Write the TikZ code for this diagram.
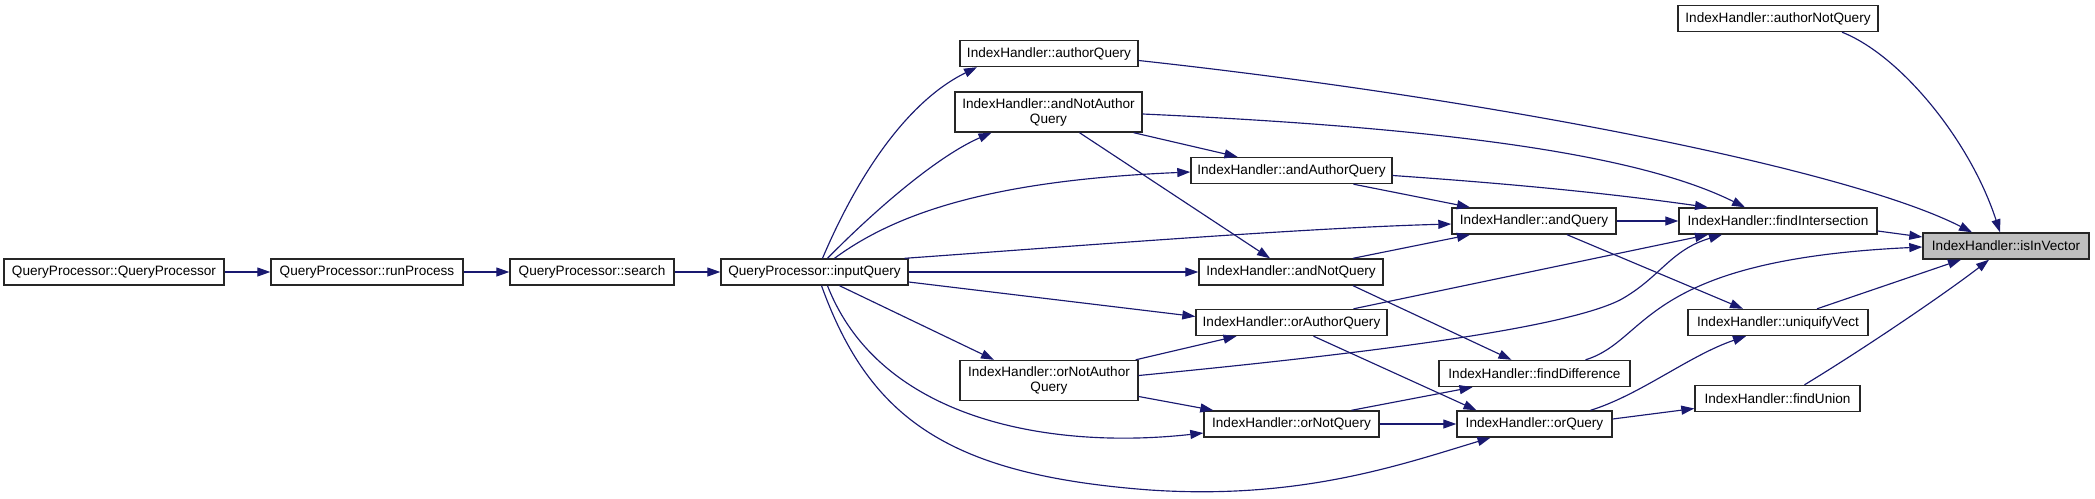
\documentclass[tikz,border=0pt]{standalone}
\usepackage{fontspec}
\setmainfont{Liberation Sans}
\usetikzlibrary{arrows.meta,calc}
\definecolor{edgeblue}{HTML}{191970}
\definecolor{rootgray}{HTML}{BFBFBF}
\begin{document}
\begin{tikzpicture}[x=1pt,y=-1pt,
  fn/.style={draw=black!85, line width=1.4pt, fill=white, minimum height=26pt,
    inner sep=0pt, font=\fontsize{13.6}{15}\selectfont, align=center},
  fntwo/.style={fn, minimum height=40pt},
  root/.style={fn, fill=rootgray},
  call/.style={draw=edgeblue, line width=1.15pt, -{Triangle[length=13pt,width=9pt]}}]
\useasboundingbox (0,0) rectangle (2095,498);

% nodes
\node[fn, minimum width=220pt] (qp) at (114,272) {QueryProcessor::QueryProcessor};
\node[fn, minimum width=192pt] (run) at (367,272) {QueryProcessor::runProcess};
\node[fn, minimum width=164pt] (search) at (592,272) {QueryProcessor::search};
\node[fn, minimum width=187pt] (input) at (814.5,272) {QueryProcessor::inputQuery};
\node[fn, minimum width=178pt] (authorQ) at (1049,53.5) {IndexHandler::authorQuery};
\node[fntwo, minimum width=187pt] (andNotAuthor) at (1048.5,112) {IndexHandler::andNotAuthor\\Query};
\node[fntwo, minimum width=178pt] (orNotAuthor) at (1049,380.5) {IndexHandler::orNotAuthor\\Query};
\node[fn, minimum width=201pt] (andAuthor) at (1291.5,170.5) {IndexHandler::andAuthorQuery};
\node[fn, minimum width=184pt] (andNot) at (1291,272) {IndexHandler::andNotQuery};
\node[fn, minimum width=191pt] (orAuthor) at (1291.5,322.5) {IndexHandler::orAuthorQuery};
\node[fn, minimum width=175pt] (orNot) at (1291.5,424) {IndexHandler::orNotQuery};
\node[fn, minimum width=164pt] (andQ) at (1534,221) {IndexHandler::andQuery};
\node[fn, minimum width=191pt] (findDiff) at (1534.5,373.5) {IndexHandler::findDifference};
\node[fn, minimum width=155pt] (orQ) at (1534.5,424) {IndexHandler::orQuery};
\node[fn, minimum width=200pt] (authorNot) at (1778,18.5) {IndexHandler::authorNotQuery};
\node[fn, minimum width=198pt] (findInter) at (1778,221) {IndexHandler::findIntersection};
\node[fn, minimum width=180pt] (uniq) at (1778,322.5) {IndexHandler::uniquifyVect};
\node[fn, minimum width=165pt] (findUnion) at (1777.5,398.5) {IndexHandler::findUnion};
\node[root, minimum width=166pt] (isIn) at (2006,246) {IndexHandler::isInVector};

% edges
\draw[call] (qp.east) -- (run.west);
\draw[call] (run.east) -- (search.west);
\draw[call] (search.east) -- (input.west);
\draw[call] ($(input.north)+(8,0)$) .. controls (860,170) and (910,100) .. ($(authorQ.south)+(-72,0)$);
\draw[call] ($(input.north)+(13,0)$) .. controls (880,205) and (940,155) .. ($(andNotAuthor.south)+(-57,0)$);
\draw[call] ($(input.north)+(20,0)$) .. controls (900,210) and (1000,180) .. ($(andAuthor.west)+(0,1.5)$);
\draw[call] ($(input.north east)+(-4,0)$) .. controls (1050,248) and (1300,228) .. ($(andQ.west)+(0,3)$);
\draw[call] (input.east) -- (andNot.west);
\draw[call] ($(input.east)+(0,10)$) -- ($(orAuthor.west)+(0,-6)$);
\draw[call] ($(input.south)+(25,0)$) -- ($(orNotAuthor.north)+(-55,0)$);
\draw[call] ($(input.south)+(13,0)$) .. controls (880,420) and (1050,450) .. ($(orNot.west)+(0,9)$);
\draw[call] ($(input.south)+(7,0)$) .. controls (870,420) and (950,475) .. (1150,490)
   .. controls (1300,500) and (1400,465) .. ($(orQ.south)+(-44,0)$);
\draw[call] ($(authorQ.east)+(0,7)$) .. controls (1500,100) and (1850,170) .. ($(isIn.north)+(-34,0)$);
\draw[call] ($(andNotAuthor.east)+(0,2)$) .. controls (1450,128) and (1640,155) .. ($(findInter.north)+(-33,0)$);
\draw[call] ($(andNotAuthor.south east)+(-9,0)$) -- ($(andAuthor.north)+(-54,0)$);
\draw[call] ($(andNotAuthor.south)+(31,0)$) -- ($(andNot.north)+(-21,0)$);
\draw[call] ($(andAuthor.east)+(0,5)$) .. controls (1500,183) and (1600,192) .. ($(findInter.north)+(-70,0)$);
\draw[call] ($(andAuthor.south)+(62,0)$) -- ($(andQ.north)+(-64,0)$);
\draw[call] (andQ.east) -- (findInter.west);
\draw[call] ($(andQ.south)+(33,0)$) -- ($(uniq.north)+(-35,0)$);
\draw[call] ($(andNot.north)+(62,0)$) -- ($(andQ.south)+(-64,0)$);
\draw[call] ($(andNot.south)+(62,0)$) -- ($(findDiff.north)+(-23,0)$);
\draw[call] ($(orAuthor.north)+(62,0)$) -- ($(findInter.south)+(-70,0)$);
\draw[call] ($(orAuthor.south)+(22,0)$) -- ($(orQ.north)+(-58,0)$);
\draw[call] ($(orNotAuthor.north east)+(-3,0)$) -- ($(orAuthor.south)+(-55,0)$);
\draw[call] ($(orNotAuthor.east)+(0,-5)$) .. controls (1350,355) and (1560,330) .. (1620,300)
   .. controls (1660,278) and (1670,250) .. ($(findInter.south)+(-56,0)$);
\draw[call] ($(orNotAuthor.east)+(0,16)$) -- ($(orNot.north west)+(10,0)$);
\draw[call] ($(orNot.north)+(60,0)$) -- ($(findDiff.south)+(-62,0)$);
\draw[call] (orNot.east) -- (orQ.west);
\draw[call] ($(orQ.north)+(56,0)$) .. controls (1640,395) and (1690,355) .. ($(uniq.south)+(-32,0)$);
\draw[call] ($(orQ.east)+(0,-5)$) -- ($(findUnion.west)+(0,10)$);
\draw[call] ($(findInter.east)+(0,10)$) -- ($(isIn.west)+(0,-9)$);
\draw[call] ($(findDiff.north)+(51,0)$) .. controls (1650,340) and (1640,260) .. ($(isIn.west)+(0,1)$);
\draw[call] ($(uniq.north)+(39,0)$) -- ($(isIn.south)+(-45,0)$);
\draw[call] ($(findUnion.north)+(27,0)$) .. controls (1870,345) and (1950,290) .. ($(isIn.south)+(-17,0)$);
\draw[call] ($(authorNot.south)+(64,0)$) .. controls (1900,55) and (1970,140) .. ($(isIn.north)+(-6,0)$);
\end{tikzpicture}
\end{document}
